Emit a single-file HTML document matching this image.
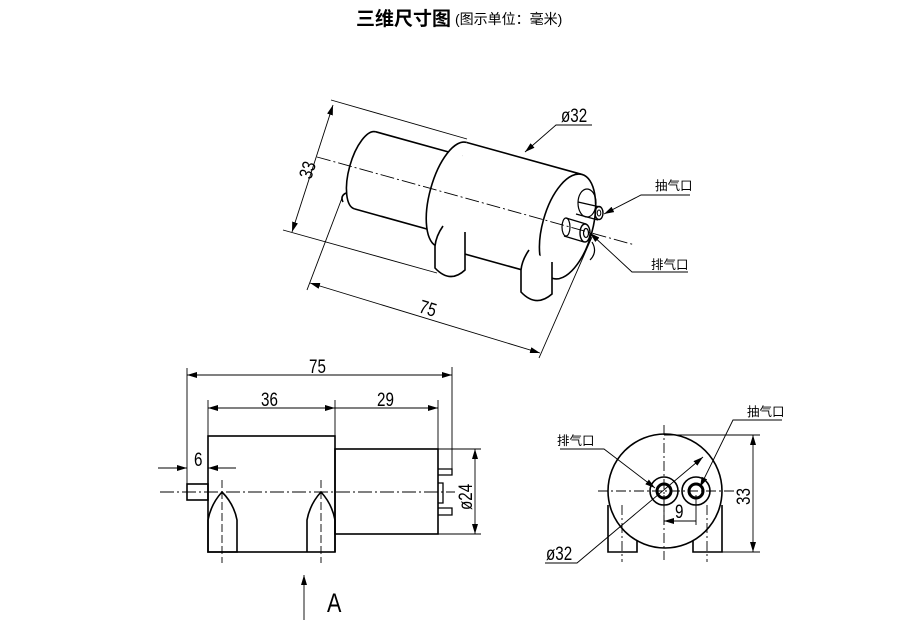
<!DOCTYPE html>
<html><head><meta charset="utf-8"><style>
body{margin:0;background:#fff;width:900px;height:629px;overflow:hidden}
svg{display:block}
text{font-family:"Liberation Sans","Noto Sans CJK SC",sans-serif;fill:#000}
.d{font-size:19px}
.c{font-size:12.5px;font-family:"Noto Sans CJK SC",sans-serif}
</style></head><body>
<svg width="900" height="629" viewBox="0 0 900 629" xmlns="http://www.w3.org/2000/svg">
<defs>
<marker id="a" viewBox="0 0 10 6" refX="10" refY="3" markerWidth="10" markerHeight="6" orient="auto-start-reverse" markerUnits="userSpaceOnUse"><path d="M0,0 L10,3 L0,6 z" fill="#000"/></marker>
</defs>
<text x="356" y="25" font-size="19" font-weight="bold" font-family="'Noto Sans CJK SC',sans-serif">三维尺寸图</text>
<text x="455" y="24" font-size="14" font-family="'Noto Serif CJK SC','Noto Sans CJK SC',serif">(图示单位：毫米)</text>

<!-- ISO VIEW -->
<g fill="none" stroke="#000" stroke-width="1.6">
<g transform="translate(317,157) rotate(15.5)">
  <path d="M50,-40 L140,-40 M50,40 L140,40"/>
  <path d="M50,-40 A16,40 0 0 0 50,40"/>
  <path d="M140,-54 L260,-54 M140,54 L260,54"/>
  <path d="M140,-54 A22,54 0 0 0 140,54" fill="#fff"/>
  <ellipse cx="260" cy="0" rx="25" ry="54" fill="#fff"/>
</g>
  <path d="M346,193 Q340,196 343,202"/>
  <path d="M443,226 Q436,236 435,246 L435,268 Q450,284 465,270 L465,232" fill="#fff"/>
  <path d="M529,250 Q522,260 521,270 L521,292 Q536,308 552,294 L552,262" fill="#fff"/>
  <ellipse cx="587" cy="203" rx="9" ry="14" stroke-width="1.2"/>
  <path d="M578,202 L600,207 M576,214 L598,220" stroke-width="1.3"/>
  <ellipse cx="599" cy="213" rx="4" ry="6.5" stroke-width="1.4"/>
  <ellipse cx="599" cy="213" rx="1.8" ry="3" stroke-width="1"/>
  <path d="M566,218 L586,224 M564,236 L584,242" stroke-width="1.3"/>
  <ellipse cx="566" cy="227" rx="4" ry="9" stroke-width="1.2"/>
  <ellipse cx="585" cy="233" rx="5" ry="9" stroke-width="1.4"/>
  <ellipse cx="586" cy="233" rx="2.5" ry="4.5" stroke-width="1.2"/>
  <path d="M592,242 Q598,252 590,260" stroke-width="1.2"/>
</g>
<g fill="none" stroke="#000" stroke-width="0.9">
  <path d="M317,157 L635,245" stroke-dasharray="14,3,2,3"/>
  <path d="M333,105 L292,232" marker-start="url(#a)" marker-end="url(#a)"/>
  <path d="M331,100 L467,139 M283,230 L437,273"/>
  <path d="M310,283 L540,353" marker-start="url(#a)" marker-end="url(#a)"/>
  <path d="M307,290 L342,198 M539,358 L592,237"/>
  <path d="M592,125 L556,125 L525,152" marker-end="url(#a)"/>
  <path d="M690,195 L641,195 L604,214" marker-end="url(#a)"/>
  <path d="M688,272 L632,272 L590,233" marker-end="url(#a)"/>
</g>
<text class="d" transform="translate(561,122) scale(.8,1)">ø32</text>
<text class="c" x="655" y="190">抽气口</text>
<text class="c" x="651" y="269">排气口</text>
<text class="d" transform="translate(311,180) rotate(-72) scale(.8,1)">33</text>
<text class="d" transform="translate(418,312) rotate(17) scale(.8,1)">75</text>

<!-- FRONT VIEW -->
<g fill="none" stroke="#000" stroke-width="1.6">
  <rect x="208" y="436" width="127" height="116" fill="#fff"/>
  <rect x="335" y="449" width="103" height="85"/>
  <rect x="187" y="484" width="21" height="16"/>
  <path d="M208,552 L208,520 Q211,504 222,492 Q234,504 237,520 L237,552 Z"/>
  <path d="M307,552 L307,520 Q310,504 321,492 Q332,504 335,520 L335,552"/>
  <path d="M438,469 L452,469 L452,475 L438,475 M438,508 L452,508 L452,515 L438,515 M438,483 L443,483 L443,503 L438,503" stroke-width="1.3"/>
</g>
<g fill="none" stroke="#000" stroke-width="0.9">
  <path d="M160,492 L455,492" stroke-dasharray="14,3,2,3"/>
  <path d="M222,480 L222,563 M321,480 L321,563" stroke-dasharray="8,3"/>
  <path d="M187,368 L187,484 M452,367 L452,474 M208,400 L208,436 M335,400 L335,449 M438,400 L438,449"/>
  <path d="M187,375 L452,375" marker-start="url(#a)" marker-end="url(#a)"/>
  <path d="M208,408 L335,408" marker-start="url(#a)" marker-end="url(#a)"/>
  <path d="M335,408 L438,408" marker-end="url(#a)"/>
  <path d="M158,468 L187,468" marker-end="url(#a)"/>
  <path d="M236,468 L208,468" marker-end="url(#a)"/>
  <path d="M438,449 L481,449 M438,534 L481,534"/>
  <path d="M475,449 L475,534" marker-start="url(#a)" marker-end="url(#a)"/>
  <path d="M304,620 L304,575" marker-end="url(#a)"/>
</g>
<text class="d" transform="translate(309,373) scale(.8,1)">75</text>
<text class="d" transform="translate(261,406) scale(.8,1)">36</text>
<text class="d" transform="translate(377,406) scale(.8,1)">29</text>
<text class="d" transform="translate(194,466) scale(.8,1)">6</text>
<text class="d" transform="translate(472,510) rotate(-90) scale(.8,1)">ø24</text>
<text transform="translate(327,612) scale(.8,1)" font-size="27" font-family="'Liberation Serif',serif">A</text>

<!-- SIDE VIEW -->
<g fill="none" stroke="#000" stroke-width="1.6">
  <path d="M608,505 L608,552 L637,552 L637,538 M693,538 L693,552 L722,552 L722,505"/>
  <circle cx="665" cy="491" r="57" fill="#fff"/>
  <circle cx="664" cy="491" r="14"/>
  <circle cx="696" cy="491" r="14"/>
  <circle cx="664" cy="491" r="7" stroke-width="3"/>
  <circle cx="696" cy="491" r="7" stroke-width="3"/>
</g>
<g fill="none" stroke="#000" stroke-width="0.9">
  <path d="M598,491 L735,491 M664,425 L664,560 M622,505 L622,562 M707,505 L707,562" stroke-dasharray="10,3,2,3"/>
  <path d="M664,435 L760,435 M722,552 L760,552"/>
  <path d="M753,435 L753,552" marker-start="url(#a)" marker-end="url(#a)"/>
  <path d="M664,495 L664,525 M696,495 L696,525"/>
  <path d="M664,521 L696,521" marker-start="url(#a)"/>
  <path d="M545,563 L577,563 L703,457" marker-end="url(#a)"/>
  <path d="M560,449 L604,449 L655,488" marker-end="url(#a)"/>
  <path d="M782,420 L733,420 L700,487" marker-end="url(#a)"/>
</g>
<text class="d" transform="translate(546,560) scale(.8,1)">ø32</text>
<text class="d" transform="translate(675,518) scale(.8,1)">9</text>
<text class="d" transform="translate(750,505) rotate(-90) scale(.8,1)">33</text>
<text class="c" x="557" y="445">排气口</text>
<text class="c" x="747" y="416">抽气口</text>
</svg>
</body></html>
